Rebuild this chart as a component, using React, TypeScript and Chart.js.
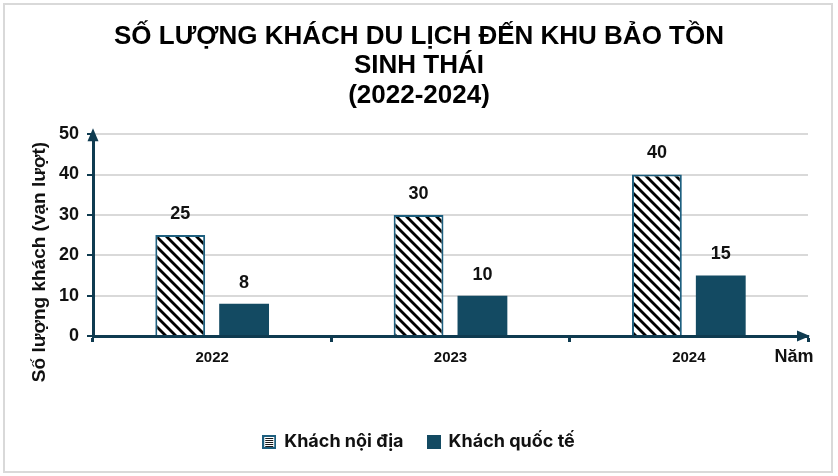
import React, { useEffect, useRef } from "react";
import { Chart, registerables } from "chart.js";

Chart.register(...registerables);

const titleLines = ["SỐ LƯỢNG KHÁCH DU LỊCH ĐẾN KHU BẢO TỒN", "SINH THÁI", "(2022-2024)"];
const categories = ["2022", "2023", "2024"];
const domestic = [25, 30, 40];
const international = [8, 10, 15];
const seriesNames = ["Khách nội địa", "Khách quốc tế"];
const yTitle = "Số lượng khách (vạn lượt)";
const xTitle = "Năm";

const NAVY = "#0f3b50";
const BAR = "#134a62";
const HATCH_BORDER = "#1d5f7f";
const GRID = "#d9d9d9";
const ARIAL = "'Liberation Sans', Arial, sans-serif";

function makeHatch(): CanvasPattern | string {
  const c = document.createElement("canvas");
  const s = 10;
  c.width = s;
  c.height = s;
  const ctx = c.getContext("2d");
  if (!ctx) return "#fff";
  ctx.fillStyle = "#ffffff";
  ctx.fillRect(0, 0, s, s);
  ctx.strokeStyle = "#000000";
  ctx.lineWidth = 2.8;
  ctx.lineCap = "square";
  const seg = (x1: number, y1: number, x2: number, y2: number) => {
    ctx.beginPath();
    ctx.moveTo(x1, y1);
    ctx.lineTo(x2, y2);
    ctx.stroke();
  };
  seg(-2, -2, s + 2, s + 2);
  seg(-2, s - 2, 2, s + 2);
  seg(s - 2, -2, s + 2, 2);
  const p = ctx.createPattern(c, "repeat");
  return p || "#fff";
}

function legendIconHatch(): HTMLCanvasElement {
  const c = document.createElement("canvas");
  c.width = 14;
  c.height = 14;
  const ctx = c.getContext("2d")!;
  ctx.fillStyle = HATCH_BORDER;
  ctx.fillRect(0, 0, 14, 14);
  ctx.fillStyle = "#ffffff";
  ctx.fillRect(2, 2, 10, 10);
  ctx.fillStyle = "#1a1a1a";
  for (let y = 3; y < 12; y += 2) ctx.fillRect(3, y, 8, 1);
  return c;
}

function legendIconSolid(): HTMLCanvasElement {
  const c = document.createElement("canvas");
  c.width = 14;
  c.height = 14;
  const ctx = c.getContext("2d")!;
  ctx.fillStyle = BAR;
  ctx.fillRect(0, 0, 14, 14);
  return c;
}

const decorPlugin = {
  id: "decor",
  afterDatasetsDraw(chart: any) {
    const ctx = chart.ctx;
    ctx.save();
    ctx.fillStyle = "#111111";
    ctx.font = `bold 18px ${ARIAL}`;
    ctx.textAlign = "center";
    ctx.textBaseline = "middle";
    chart.data.datasets.forEach((ds: any, i: number) => {
      const meta = chart.getDatasetMeta(i);
      meta.data.forEach((el: any, j: number) => {
        ctx.fillText(String(ds.data[j]), el.x, el.y - 21);
      });
    });
    ctx.restore();
  },
  afterDraw(chart: any) {
    const ctx = chart.ctx;
    const a = chart.chartArea;
    ctx.save();
    ctx.fillStyle = NAVY;
    // y arrow
    ctx.beginPath();
    ctx.moveTo(a.left, a.top - 6);
    ctx.lineTo(a.left - 5.5, a.top + 7);
    ctx.lineTo(a.left + 5.5, a.top + 7);
    ctx.closePath();
    ctx.fill();
    // x arrow
    ctx.beginPath();
    ctx.moveTo(a.right + 2, a.bottom);
    ctx.lineTo(a.right - 11, a.bottom - 5.5);
    ctx.lineTo(a.right - 11, a.bottom + 5.5);
    ctx.closePath();
    ctx.fill();
    // x title
    ctx.fillStyle = "#111111";
    ctx.font = `bold 18px ${ARIAL}`;
    ctx.textAlign = "center";
    ctx.textBaseline = "middle";
    ctx.fillText(xTitle, a.right - 14, a.bottom + 21);
    // y title
    ctx.translate(40, 262);
    ctx.rotate(-Math.PI / 2);
    ctx.font = `bold 19px ${ARIAL}`;
    ctx.fillText(yTitle, 0, 0);
    ctx.restore();
  },
};

export default function App() {
  const ref = useRef<HTMLCanvasElement | null>(null);
  useEffect(() => {
    if (!ref.current) return;
    const hatch = makeHatch();
    const icons = [legendIconHatch(), legendIconSolid()];
    const chart = new Chart(ref.current, {
      type: "bar",
      data: {
        labels: categories,
        datasets: [
          {
            label: seriesNames[0],
            data: domestic,
            backgroundColor: hatch as any,
            borderColor: HATCH_BORDER,
            borderWidth: 2,
            categoryPercentage: 0.536,
            barPercentage: 0.78,
          },
          {
            label: seriesNames[1],
            data: international,
            backgroundColor: BAR,
            borderWidth: 0,
            categoryPercentage: 0.536,
            barPercentage: 0.78,
          },
        ],
      },
      options: {
        animation: false,
        responsive: false,
        devicePixelRatio: 1,
        layout: { padding: { left: 30, right: 30, top: 0, bottom: 15 } },
        plugins: {
          title: {
            display: true,
            text: titleLines,
            color: "#000000",
            font: { family: ARIAL, size: 26, weight: "bold", lineHeight: 1.13 },
            padding: { top: 22, bottom: 24 },
          },
          legend: {
            position: "bottom",
            labels: {
              usePointStyle: true,
              pointStyleWidth: 12,
              color: "#111111",
              font: { family: "Inter, 'Noto Sans', sans-serif", size: 18, weight: "bold" },
              padding: 24,
              generateLabels: () =>
                seriesNames.map((n, i) => ({
                  text: n,
                  pointStyle: icons[i],
                  fillStyle: i === 0 ? "#fff" : BAR,
                  strokeStyle: i === 0 ? HATCH_BORDER : BAR,
                  lineWidth: 0,
                  hidden: false,
                  datasetIndex: i,
                  fontColor: "#111111",
                })) as any,
            },
          },
          tooltip: { enabled: false },
        },
        scales: {
          x: {
            afterFit: (s: any) => {
              s.height = 73;
            },
            grid: {
              drawOnChartArea: false,
              drawTicks: true,
              tickLength: 6,
              tickColor: NAVY,
              tickWidth: 3,
            },
            border: { color: NAVY, width: 3 },
            ticks: {
              color: "#111111",
              font: { family: ARIAL, size: 15, weight: "bold" },
              padding: 7,
            },
          },
          y: {
            min: 0,
            max: 50,
            afterFit: (s: any) => {
              s.width = 63;
            },
            ticks: {
              stepSize: 10,
              color: "#111111",
              font: { family: ARIAL, size: 18, weight: "bold" },
              padding: 8,
            },
            grid: {
              color: GRID,
              lineWidth: 2,
              tickLength: 6,
              tickColor: NAVY,
              tickWidth: 2,
            },
            border: { color: NAVY, width: 3 },
          },
        },
      },
      plugins: [decorPlugin],
    });
    return () => chart.destroy();
  }, []);

  return (
    <div style={{ position: "absolute", left: 0, top: 0, width: 838, height: 476, background: "#fff" }}>
      <canvas ref={ref} width={838} height={476} style={{ position: "absolute", left: 0, top: 0 }} />
      <div
        style={{
          position: "absolute",
          left: 3,
          top: 3,
          width: 826,
          height: 466,
          border: "2px solid #d9d9d9",
          pointerEvents: "none",
        }}
      />
    </div>
  );
}
